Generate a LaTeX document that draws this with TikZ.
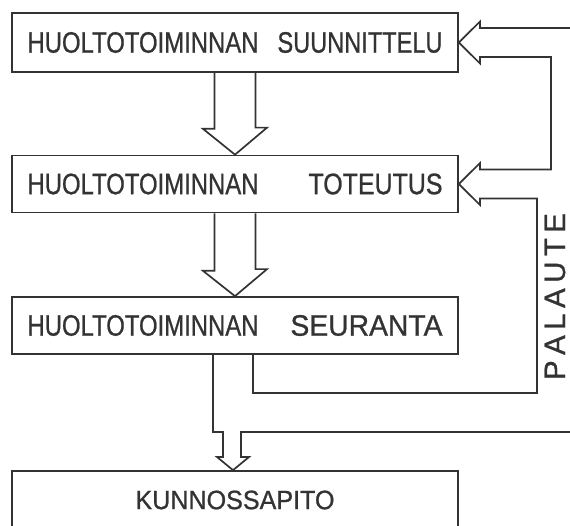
\documentclass[tikz,border=0pt]{standalone}
\usepackage{fontspec}
\setmainfont[FakeBold=0.9]{Liberation Sans}
\usetikzlibrary{calc}
\newcommand{\fitword}[2]{\resizebox{#1}{\height}{#2}}
\begin{document}
\begin{tikzpicture}[x=1pt,y=-1pt,
  ink/.style={draw=black!80,line width=1.7pt,line join=miter},
  stage/.style={ink,rectangle,minimum width=446pt,inner sep=0pt,
    text=black!80,font=\fontsize{29.5}{29.5}\selectfont},
  flow/.style={ink}]
\useasboundingbox (0,0) rectangle (570,526);
\clip (0,0) rectangle (570,526);

% the four stages
\node[stage,minimum height=59pt] (b1) at (235,42.5)
  {\makebox[415pt]{\fitword{231pt}{HUOLTOTOIMINNAN}\hfill\fitword{165pt}{SUUNNITTELU}}};
\node[stage,minimum height=57pt] (b2) at (235,184)
  {\makebox[415pt]{\fitword{231pt}{HUOLTOTOIMINNAN}\hfill\fitword{134pt}{TOTEUTUS}}};
\node[stage,minimum height=57pt] (b3) at (235,325.5)
  {\makebox[415pt]{\fitword{231pt}{HUOLTOTOIMINNAN}\hfill\fitword{152pt}{SEURANTA}}};
\node[stage,minimum height=58pt,font=\fontsize{26.5}{26.5}\selectfont] (b4) at (235,500)
  {\fitword{199pt}{KUNNOSSAPITO}};

% feedback label
\node[rotate=90,inner sep=0pt,text=black!80,font=\fontsize{29.5}{29.5}\selectfont] (fb) at (555,296.5)
  {\makebox[167pt]{P\hfill A\hfill L\hfill A\hfill U\hfill T\hfill E}};

% incoming lines from the right
\coordinate (inR) at (570,28);
\coordinate (inB) at (570,432);

% hollow arrows between the stages
\draw[flow] ($(b1.south)+(-20.5,0)$) -- ++(0,56) -- ++(-11.5,0) -- (b2.north)
  -- ++(32,-27) -- ++(-11.5,0) -- ($(b1.south)+(20.5,0)$);
\draw[flow] ($(b2.south)+(-20.5,0)$) -- ++(0,57.5) -- ++(-11.5,0) -- (b3.north)
  -- ++(32,-27) -- ++(-11.5,0) -- ($(b2.south)+(20.5,0)$);

% feedback loops into the planning and execution stages
\draw[flow] (inR) -- (480,28) -- (480,21.5) -- (b1.east) -- (480,63.5) -- (480,57)
  -- (551,57) -- (551,169.5) -- (480,169.5) -- (480,163) -- (b2.east)
  -- (480,205) -- (480,198.5) -- (537,198.5) -- (537,393) -- (253,393)
  -- (253,0 |- b3.south);

% arrow into maintenance
\draw[flow] (213,0 |- b3.south) -- (213,432) -- (223,432) -- (223,457) -- (217,457)
  -- (b4.north -| 233,0) -- (249,457) -- (241,457) -- (241,432) -- (inB);
\end{tikzpicture}
\end{document}
